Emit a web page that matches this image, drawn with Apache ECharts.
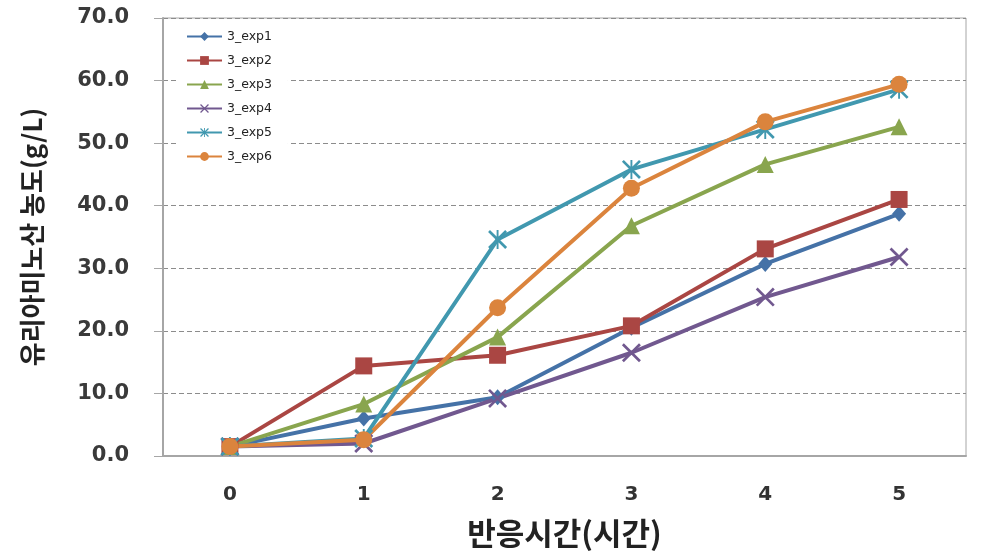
<!DOCTYPE html>
<html>
<head>
<meta charset="utf-8">
<script src="https://cdn.jsdelivr.net/npm/echarts@6/dist/echarts.min.js"></script>
<style>
  html, body { margin: 0; padding: 0; background: #fff; }
  #chart { width: 985px; height: 559px; }
</style>
</head>
<body>
<div id="chart"></div>
<script>
var hours = ['0', '1', '2', '3', '4', '5'];
var names = ['3_exp1', '3_exp2', '3_exp3', '3_exp4', '3_exp5', '3_exp6'];
var exp1 = [1.5, 6.0, 9.4, 20.5, 30.7, 38.7];
var exp2 = [1.5, 14.4, 16.1, 20.8, 33.1, 41.0];
var exp3 = [1.5, 8.3, 19.0, 36.8, 46.6, 52.6];
var exp4 = [1.5, 2.0, 9.2, 16.5, 25.4, 31.8];
var exp5 = [1.5, 2.8, 34.6, 45.8, 52.2, 58.6];
var exp6 = [1.5, 2.6, 23.7, 42.8, 53.4, 59.4];
var colors = ['#4572A7', '#AA4643', '#89A54E', '#71588F', '#4198AF', '#DB843D'];

// x 와 별표 마커 (채워진 얇은 막대로)
var crossPath = 'path://M0,1L1,0L10,9L9,10Z M9,0L10,1L1,10L0,9Z';
var starPath = 'path://M0,1L1,0L10,9L9,10Z M9,0L10,1L1,10L0,9Z M4.5,0L5.5,0L5.5,10L4.5,10Z';

var symbols = ['diamond', 'rect', 'triangle', crossPath, starPath, 'circle'];
var sizes = [[14, 16], 17, 17, 19, 19, 17];
var data = [exp1, exp2, exp3, exp4, exp5, exp6];

var series = [];
for (var i = 0; i < names.length; i++) {
  series.push({
    name: names[i],
    type: 'line',
    data: data[i],
    symbol: symbols[i],
    symbolSize: sizes[i],
    showAllSymbol: true,
    lineStyle: { width: 4, color: colors[i] },
    itemStyle: { color: colors[i], opacity: 1 },
    emphasis: { disabled: true }
  });
}

var chart = echarts.init(document.getElementById('chart'));
chart.setOption({
  animation: false,
  color: colors,
  grid: {
    left: 163, right: 19, top: 18, bottom: 103,
    show: true, borderColor: '#a6a6a6', borderWidth: 1
  },
  legend: {
    orient: 'vertical',
    left: 176, top: 26,
    data: names,
    itemWidth: 35, itemHeight: 11, itemGap: 11,
    padding: [4, 16, 6, 10],
    backgroundColor: '#fff',
    textStyle: { fontFamily: 'DejaVu Sans', fontSize: 12.5, color: '#222' }
  },
  xAxis: {
    type: 'category',
    data: hours,
    boundaryGap: true,
    name: '반응시간(시간)',
    nameLocation: 'middle',
    nameGap: 62,
    nameTextStyle: { fontFamily: 'Noto Sans CJK KR', fontSize: 31, fontWeight: 'bold', color: '#222' },
    axisLine: { lineStyle: { color: '#a6a6a6', width: 2 } },
    axisTick: { show: false },
    axisLabel: { margin: 29, fontFamily: 'DejaVu Sans', fontSize: 20, fontWeight: 'bold', color: '#333' }
  },
  yAxis: {
    type: 'value',
    min: 0, max: 70, interval: 10,
    name: '유리아미노산 농도(g/L)',
    nameLocation: 'middle',
    nameGap: 118,
    nameTextStyle: { fontFamily: 'Noto Sans CJK KR', fontSize: 26, fontWeight: 'bold', color: '#222' },
    axisLine: { show: true, lineStyle: { color: '#a6a6a6', width: 2 } },
    axisTick: { show: true, length: 9, lineStyle: { color: '#a6a6a6', width: 1 } },
    axisLabel: {
      margin: 34, fontFamily: 'DejaVu Sans', fontSize: 21, fontWeight: 'bold', color: '#3a3a3a',
      formatter: function (v) { return v.toFixed(1); }
    },
    splitLine: { lineStyle: { color: '#8c8c8c', type: [5, 3], width: 1 } }
  },
  series: series
});
</script>
</body>
</html>
